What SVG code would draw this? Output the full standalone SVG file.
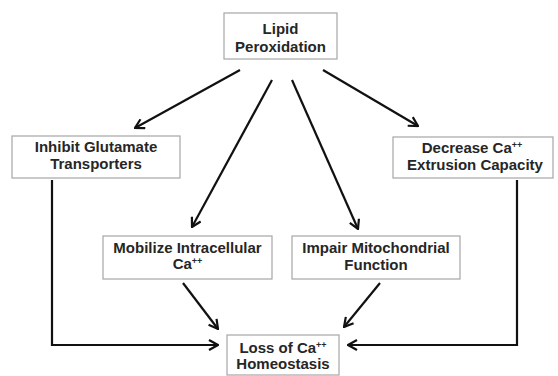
<svg xmlns="http://www.w3.org/2000/svg" width="558" height="376" viewBox="0 0 558 376">
  <style>
    .box { fill: #ffffff; stroke: #a6a6a6; stroke-width: 1.2; }
    .lbl { font-family: "Liberation Sans", Arial, sans-serif; font-weight: bold; font-size: 15px; fill: #262626; text-anchor: middle; }
    .sup { font-size: 9px; }
    .conn { fill: none; stroke: #111111; stroke-width: 2.2; marker-end: url(#arr); }
  </style>
  <defs>
    <marker id="arr" viewBox="0 0 12 12" refX="11" refY="6" markerWidth="12" markerHeight="12" markerUnits="userSpaceOnUse" orient="auto">
      <path d="M2,1 L11,6 L2,11" fill="none" stroke="#111111" stroke-width="2.2"/>
    </marker>
  </defs>
  <rect width="558" height="376" fill="#ffffff"/>

  <g id="connectors">
    <path class="conn" d="M240,70 L135,128"/>
    <path class="conn" d="M272,80 L192,227"/>
    <path class="conn" d="M292,80 L358,229"/>
    <path class="conn" d="M323,70 L418,126"/>
    <path class="conn" d="M52,180 L52,345 L218,345"/>
    <path class="conn" d="M517,180 L517,345 L348,345"/>
    <path class="conn" d="M183,283 L218,329"/>
    <path class="conn" d="M380,283 L344,327"/>
  </g>

  <g id="lipid-peroxidation">
    <rect class="box" x="224" y="13" width="113" height="46"/>
    <text class="lbl" x="280.5" y="34">Lipid</text>
    <text class="lbl" x="280.5" y="52">Peroxidation</text>
  </g>

  <g id="inhibit-glutamate">
    <rect class="box" x="12" y="136" width="168" height="42"/>
    <text class="lbl" x="96" y="152">Inhibit Glutamate</text>
    <text class="lbl" x="96" y="169">Transporters</text>
  </g>

  <g id="decrease-extrusion">
    <rect class="box" x="393" y="137" width="160" height="41"/>
    <text class="lbl" x="472" y="153">Decrease Ca<tspan class="sup" dy="-5">++</tspan></text>
    <text class="lbl" x="475" y="170">Extrusion Capacity</text>
  </g>

  <g id="mobilize-calcium">
    <rect class="box" x="103" y="236" width="169" height="43"/>
    <text class="lbl" x="187.5" y="253">Mobilize Intracellular</text>
    <text class="lbl" x="187.5" y="269">Ca<tspan class="sup" dy="-5">++</tspan></text>
  </g>

  <g id="impair-mitochondrial">
    <rect class="box" x="292" y="236" width="168" height="43"/>
    <text class="lbl" x="376" y="253">Impair Mitochondrial</text>
    <text class="lbl" x="376" y="270">Function</text>
  </g>

  <g id="loss-homeostasis">
    <rect class="box" x="227" y="335" width="112" height="40"/>
    <text class="lbl" x="283" y="353">Loss of Ca<tspan class="sup" dy="-5">++</tspan></text>
    <text class="lbl" x="283" y="369">Homeostasis</text>
  </g>
</svg>
